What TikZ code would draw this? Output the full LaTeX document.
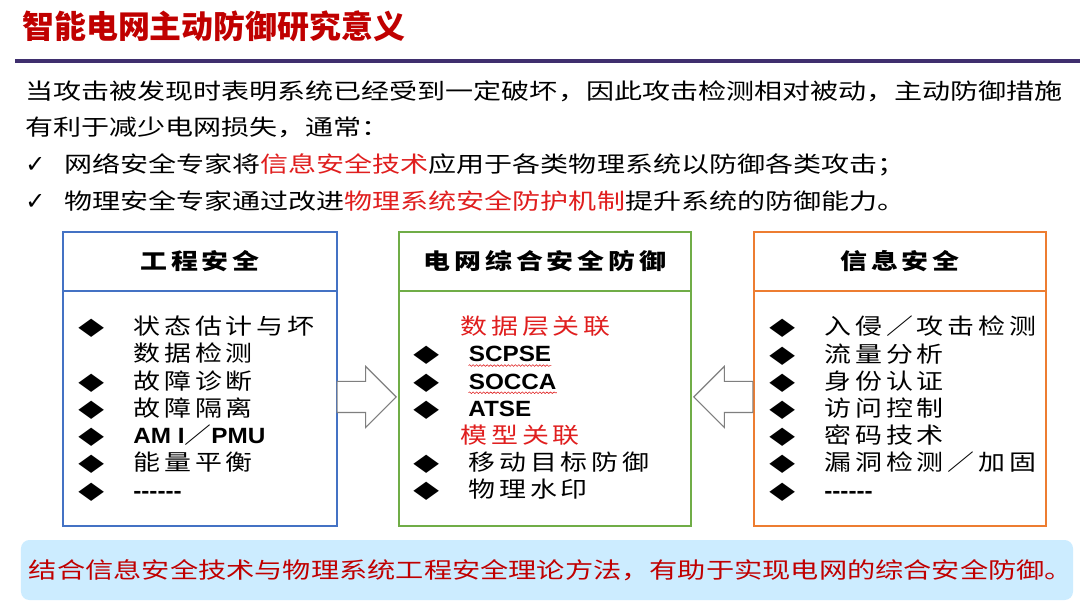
\documentclass[tikz,border=0pt]{standalone}
\usepackage{fontspec}
\usetikzlibrary{positioning,calc,shapes.arrows,decorations.pathmorphing}
\newfontfamily\cjk{Noto Sans CJK SC}[FakeStretch=1.27]
\newfontfamily\headf{Noto Sans CJK SC}
\newfontfamily\boxf{Noto Sans CJK SC}[FakeStretch=1.22,LetterSpace=18]
\newfontfamily\latf{Liberation Sans}[FakeStretch=1.1]
\newfontfamily\symf{DejaVu Sans}[FakeStretch=1.4]
\newfontfamily\chkf{DejaVu Sans}
\definecolor{TitleRed}{HTML}{C00000}
\definecolor{HiRed}{HTML}{E01E1E}
\definecolor{Purple}{HTML}{3F2F6E}
\definecolor{BoxBlue}{HTML}{4472C4}
\definecolor{BoxGreen}{HTML}{70AD47}
\definecolor{BoxOrange}{HTML}{ED7D31}
\definecolor{ArrowGray}{HTML}{7F7F7F}
\definecolor{NoteBlue}{HTML}{CCECFF}
\newcommand{\dia}{\makebox[1.375cm][l]{\symf\fontsize{17}{19}\selectfont ◆}}
\newcommand{\chk}{\makebox[0.975cm][l]{\chkf\bfseries\fontsize{17}{19}\selectfont ✓}}
\newcommand{\wavy}[1]{\tikz[baseline=(w.base)]{\node[inner sep=0pt] (w) {#1};
 \draw[HiRed, line width=0.4pt, decorate, decoration={snake, amplitude=0.6pt, segment length=2.5pt}] ([yshift=-2.2pt]w.south west) -- ([yshift=-2.2pt]w.south east);}}
\tikzset{
 headline/.style={anchor=west, inner sep=0pt, text=TitleRed, font=\headf\bfseries\fontsize{22.7}{26}\selectfont},
 para/.style={anchor=west, inner sep=0pt, font=\cjk\fontsize{15.7}{18}\selectfont},
 head/.style={draw, line width=1.5pt, outer sep=0pt, minimum height=1.475cm, font=\boxf\bfseries\fontsize{15.7}{18}\selectfont},
 body/.style={draw, line width=1.5pt, outer sep=0pt, minimum height=5.875cm},
 items/.style={anchor=west, inner sep=0pt, align=left, font=\boxf\fontsize{15.7}{19.35}\selectfont},
 hollow/.style={single arrow, draw=ArrowGray, fill=white, line width=0.8pt, inner xsep=0pt, inner ysep=0.375cm, minimum height=1.475cm, single arrow head extend=0.375cm, anchor=tip},
 note/.style={fill=NoteBlue, rounded corners=6pt, inner xsep=0pt, minimum width=26.15cm, minimum height=1.5cm, text=TitleRed, font=\cjk\fontsize{15.8}{19}\selectfont}
}
\begin{document}
\begin{tikzpicture}[x=0.025cm,y=-0.025cm]
\path[fill=white] (0,0) rectangle (1080,608);
\useasboundingbox (0,0) rectangle (1080,608);
% title and rule
\node[headline] (title) at (22,26) {智能电网主动防御研究意义};
\draw[Purple, line width=2.2pt] (15,61) -- (1080,61);
% introduction
\node[para] (intro1) at (25,91) {当攻击被发现时表明系统已经受到一定破坏，因此攻击检测相对被动，主动防御措施};
\node[para,below=0.917cm of intro1.west,anchor=west] (intro2) {有利于减少电网损失，通常：};
\node[para,below=0.917cm of intro2.west,anchor=west] (chk1) {\chk 网络安全专家将{\color{HiRed}信息安全技术}应用于各类物理系统以防御各类攻击；};
\node[para,below=0.917cm of chk1.west,anchor=west] (chk2) {\chk 物理安全专家通过改进{\color{HiRed}物理系统安全防护机制}提升系统的防御能力。};
% three boxes
\node[head,draw=BoxBlue,minimum width=6.85cm] (enghead) at (200,261.5) {工程安全};
\node[body,draw=BoxBlue,minimum width=6.85cm,below=0pt of enghead] (engbody) {};
\node[head,draw=BoxGreen,minimum width=7.3cm] (gridhead) at (545,261.5) {电网综合安全防御};
\node[body,draw=BoxGreen,minimum width=7.3cm,below=0pt of gridhead] (gridbody) {};
\node[head,draw=BoxOrange,minimum width=7.3cm] (infohead) at (900,261.5) {信息安全};
\node[body,draw=BoxOrange,minimum width=7.3cm,below=0pt of infohead] (infobody) {};
\node[items,right=0.375cm of engbody.west] (engitems) {\dia 状态估计与坏\\
 \hspace*{1.375cm}数据检测\\
 \dia 故障诊断\\
 \dia 故障隔离\\
 \dia {\latf\bfseries AM I}／{\latf\bfseries PMU}\\
 \dia 能量平衡\\
 \dia {\latf\bfseries -{}-{}-{}-{}-{}-}};
\node[items,right=0.35cm of gridbody.west] (griditems) {\hspace*{1.175cm}{\color{HiRed}数据层关联}\\
 \dia {\latf\bfseries\wavy{SCPSE}}\\
 \dia {\latf\bfseries\wavy{SOCCA}}\\
 \dia {\latf\bfseries ATSE}\\
 \hspace*{1.175cm}{\color{HiRed}模型关联}\\
 \dia 移动目标防御\\
 \dia 物理水印};
\node[items,right=0.375cm of infobody.west] (infoitems) {\dia 入侵／攻击检测\\
 \dia 流量分析\\
 \dia 身份认证\\
 \dia 访问控制\\
 \dia 密码技术\\
 \dia 漏洞检测／加固\\
 \dia {\latf\bfseries -{}-{}-{}-{}-{}-}};
% hollow arrows
\node[hollow] (toright) at ($(gridbody.west)+(-2,0.29cm)$) {};
\node[hollow,shape border rotate=180] (toleft) at ($(gridbody.east)+(2,0.29cm)$) {};
% summary
\node[note] (summary) at (547,570) {\hspace*{0.2cm}结合信息安全技术与物理系统工程安全理论方法，有助于实现电网的综合安全防御。};
\end{tikzpicture}
\end{document}
